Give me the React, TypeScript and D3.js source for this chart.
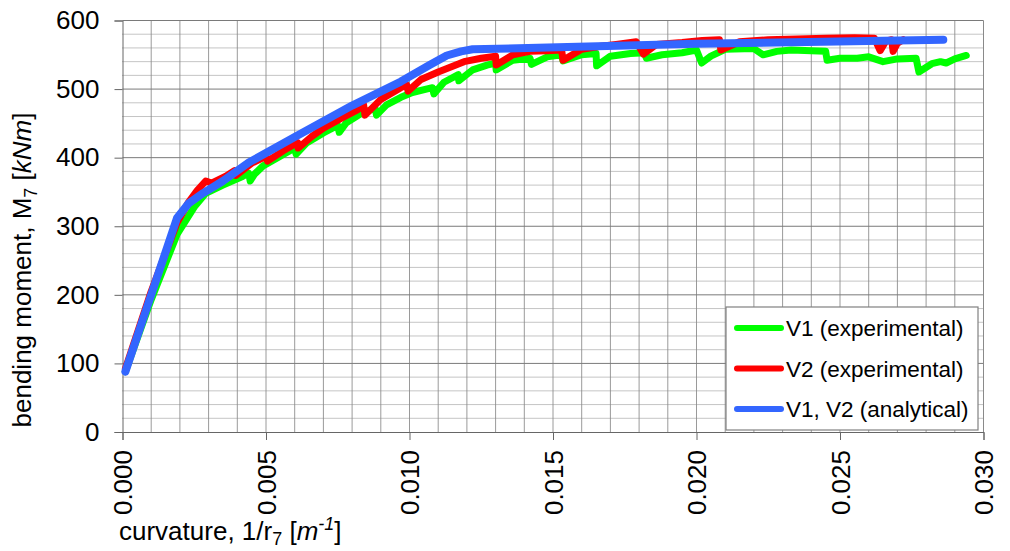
import React, { useRef, useEffect } from 'react';
import * as d3 from 'd3';

const width = 1010;
const height = 551;

const xTicks = [0, 0.005, 0.01, 0.015, 0.02, 0.025, 0.03];
const yTicks = [0, 100, 200, 300, 400, 500, 600];

// V1 experimental (green) - curvature [1/m], moment [kNm]
const v1Exp: [number, number][] = [
    [0.0001, 88], [0.001, 193], [0.0019, 288], [0.0025, 328], [0.0029, 348],
    [0.0035, 360], [0.0042, 373], [0.0044, 377], [0.00445, 366], [0.0046, 376],
    [0.0049, 388], [0.0055, 402], [0.006, 414], [0.00605, 405], [0.0064, 421],
    [0.007, 436], [0.0075, 447], [0.00755, 437], [0.0078, 451], [0.0083, 464],
    [0.0088, 472], [0.00885, 462], [0.0092, 477], [0.0097, 488], [0.0101, 495],
    [0.0108, 502], [0.01085, 493], [0.0112, 510], [0.0117, 521], [0.01172, 512],
    [0.0122, 528], [0.0127, 535], [0.013, 538], [0.01302, 528], [0.0136, 542],
    [0.0142, 545], [0.01425, 536], [0.0148, 547], [0.0153, 550], [0.01535, 541],
    [0.016, 550], [0.0165, 552], [0.01652, 534], [0.017, 548], [0.0177, 552],
    [0.0182, 553], [0.01825, 545], [0.0188, 550], [0.0195, 553], [0.02, 557],
    [0.02018, 538], [0.0205, 548], [0.021, 558], [0.022, 559], [0.02232, 550],
    [0.0228, 555], [0.0233, 557], [0.024, 556], [0.0245, 555], [0.02455, 542],
    [0.025, 545], [0.0256, 545], [0.026, 547], [0.0265, 540], [0.027, 544],
    [0.02765, 545], [0.02775, 525], [0.0282, 537], [0.0285, 540], [0.0287, 538],
    [0.029, 544], [0.0294, 549],
];

// V2 experimental (red)
const v2Exp: [number, number][] = [
    [0.0001, 92], [0.001, 205], [0.0019, 305], [0.0023, 335], [0.0026, 352],
    [0.0029, 366], [0.0031, 363], [0.0036, 373], [0.0039, 381], [0.00395, 374],
    [0.0045, 392], [0.005, 402], [0.00505, 395], [0.0056, 410], [0.0061, 422],
    [0.00612, 414], [0.0066, 431], [0.007, 443], [0.0076, 457], [0.0082, 470],
    [0.0084, 477], [0.00845, 462], [0.009, 485], [0.0097, 502], [0.0099, 506],
    [0.00995, 497], [0.0104, 514], [0.011, 525], [0.0119, 540], [0.0125, 545],
    [0.013, 548], [0.01302, 535], [0.0136, 550], [0.0142, 555], [0.0148, 556],
    [0.0153, 557], [0.01535, 542], [0.016, 558], [0.0166, 562], [0.0172, 565],
    [0.0179, 569], [0.01815, 551], [0.0186, 565], [0.0195, 568], [0.0202, 571],
    [0.0208, 572], [0.02085, 557], [0.0215, 569], [0.0225, 572], [0.0235, 573],
    [0.0245, 574], [0.0255, 575], [0.0262, 574], [0.0264, 556], [0.0266, 570],
    [0.0268, 572], [0.02685, 555], [0.027, 567], [0.0272, 572],
];

// V1, V2 analytical (blue)
const analytical: [number, number][] = [
    [0.0001, 88], [0.0019, 312], [0.0023, 333], [0.0028, 348], [0.0035, 366],
    [0.0044, 393], [0.006, 430], [0.008, 476], [0.0097, 511], [0.0107, 535],
    [0.0113, 549], [0.0118, 555], [0.0122, 558], [0.02, 566], [0.0286, 572],
];

const legendLabels = ['V1 (experimental)', 'V2 (experimental)', 'V1, V2 (analytical)'];
const colors = ['#00ff00', '#ff0000', '#3366ff'];

const font = 'Liberation Sans, Arial, sans-serif';

const Chart = () => {
    const ref = useRef<SVGSVGElement>(null);

    useEffect(() => {
        const svg = d3.select(ref.current)
            .attr('width', width)
            .attr('height', height)
            .style('background-color', 'white');
        svg.selectAll('*').remove();

        const x = d3.scaleLinear().domain([0, 0.03]).range([122.5, 983.5]);
        const y = d3.scaleLinear().domain([0, 600]).range([432, 20.5]);

        const grid = svg.append('g');
        // vertical grid every 0.001
        grid.selectAll('line.v')
            .data(d3.range(1, 30).map((i) => i * 0.001))
            .enter().append('line')
            .attr('x1', (d) => x(d)).attr('x2', (d) => x(d))
            .attr('y1', y(0)).attr('y2', y(600))
            .attr('stroke', '#9a9a9a')
            .attr('stroke-width', 1);
        // minor horizontal grid every 20
        grid.selectAll('line.h')
            .data(d3.range(20, 600, 20).filter((v) => v % 100 !== 0))
            .enter().append('line')
            .attr('x1', x(0)).attr('x2', x(0.03))
            .attr('y1', (d) => y(d)).attr('y2', (d) => y(d))
            .attr('stroke', '#8a8a8a')
            .attr('stroke-dasharray', '1,1')
            .attr('stroke-width', 1);
        // major horizontal grid
        grid.selectAll('line.m')
            .data(yTicks.filter((v) => v > 0))
            .enter().append('line')
            .attr('x1', x(0)).attr('x2', x(0.03))
            .attr('y1', (d) => y(d)).attr('y2', (d) => y(d))
            .attr('stroke', '#7a7a7a')
            .attr('stroke-width', 1);
        // right border
        grid.append('line')
            .attr('x1', x(0.03)).attr('x2', x(0.03))
            .attr('y1', y(0)).attr('y2', y(600))
            .attr('stroke', '#8a8a8a');

        const yAxis = svg.append('g')
            .attr('transform', `translate(${x(0)},0)`)
            .call(d3.axisLeft(y).tickValues(yTicks).tickSize(8).tickPadding(15).tickFormat(d3.format('d')));
        yAxis.select('.domain').attr('stroke', '#666');
        yAxis.selectAll('.tick line').attr('stroke', '#666');
        yAxis.selectAll('text')
            .style('font-family', font)
            .style('font-size', '26px')
            .attr('fill', '#000');

        const xAxis = svg.append('g')
            .attr('transform', `translate(0,${y(0)})`)
            .call(d3.axisBottom(x).tickValues(xTicks).tickSize(8).tickFormat(d3.format('.3f')));
        xAxis.select('.domain').attr('stroke', '#666');
        xAxis.selectAll('.tick line').attr('stroke', '#666');
        xAxis.selectAll('text')
            .attr('transform', 'rotate(-90)')
            .attr('text-anchor', 'end')
            .attr('x', -18)
            .attr('y', 0)
            .attr('dy', '0.36em')
            .style('font-family', font)
            .style('font-size', '26px')
            .attr('fill', '#000');

        const line = d3.line<[number, number]>()
            .x((d) => x(d[0]))
            .y((d) => y(d[1]));

        [v1Exp, v2Exp, analytical].forEach((series, i) => {
            svg.append('path')
                .datum(series)
                .attr('d', line)
                .attr('fill', 'none')
                .attr('stroke', colors[i])
                .attr('stroke-width', i === 2 ? 8 : 7)
                .attr('stroke-linejoin', 'round')
                .attr('stroke-linecap', 'round');
        });

        // legend
        const legend = svg.append('g').attr('transform', 'translate(726,307)');
        legend.append('rect')
            .attr('width', 252)
            .attr('height', 123)
            .attr('fill', 'white')
            .attr('stroke', '#808080')
            .attr('stroke-width', 1.2);
        legendLabels.forEach((label, i) => {
            const cy = 21 + i * 40.5;
            legend.append('line')
                .attr('x1', 11).attr('x2', 55)
                .attr('y1', cy).attr('y2', cy)
                .attr('stroke', colors[i])
                .attr('stroke-width', 6)
                .attr('stroke-linecap', 'round');
            legend.append('text')
                .attr('x', 60)
                .attr('y', cy)
                .attr('dy', '0.36em')
                .style('font-family', font)
                .style('font-size', '22.5px')
                .text(label);
        });

        // axis titles
        const xt = svg.append('text')
            .attr('x', 119)
            .attr('y', 540)
            .style('font-family', font)
            .style('font-size', '26px');
        xt.append('tspan').text('curvature, 1/r');
        xt.append('tspan').attr('dy', 5).style('font-size', '18px').text('7');
        xt.append('tspan').attr('dy', -5).text(' [');
        xt.append('tspan').style('font-style', 'italic').text('m');
        xt.append('tspan').attr('dy', -10).style('font-size', '18px').style('font-style', 'italic').text('-1');
        xt.append('tspan').attr('dy', 10).text(']');

        const yt = svg.append('text')
            .attr('transform', 'translate(31,270) rotate(-90)')
            .attr('text-anchor', 'middle')
            .style('font-family', font)
            .style('font-size', '26px');
        yt.append('tspan').text('bending moment, M');
        yt.append('tspan').attr('dy', 6).style('font-size', '18px').text('7');
        yt.append('tspan').attr('dy', -6).text(' [');
        yt.append('tspan').style('font-style', 'italic').text('kNm');
        yt.append('tspan').text(']');
    }, []);

    return <svg ref={ref} style={{ position: 'absolute', left: 0, top: 0 }}></svg>;
};

export default function App() {
    return <Chart />;
}
